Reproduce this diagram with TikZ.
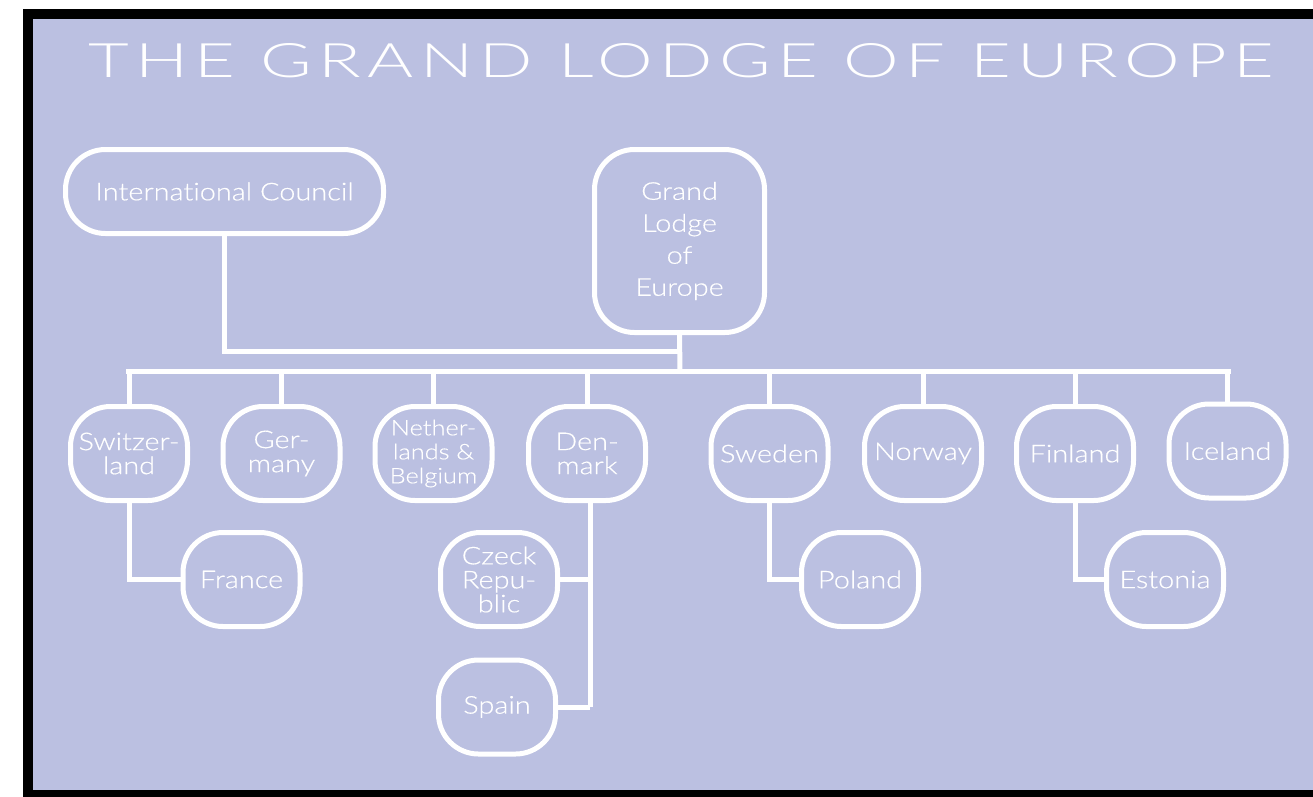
\documentclass[tikz,border=0pt]{standalone}
\usepackage{fontspec}
\setmainfont{Lato Light}[FakeStretch=1.18,FakeBold=0.4,Ligatures=NoCommon]
\newfontfamily\titlefont{Lato Light}
\usepackage{graphicx}
\definecolor{lodgebg}{RGB}{187,192,225}
\begin{document}
\begin{tikzpicture}[x=1pt,y=-1pt,
  conn/.style={draw=white,line width=5pt},
  lbox/.style={draw=white,line width=5pt,rounded corners=40pt,inner sep=0pt,
    text=white,align=center,minimum width=117pt,minimum height=94pt,
    font=\fontsize{24.5}{24}\selectfont},
  bigbox/.style={lbox,rounded corners=40pt}]
\useasboundingbox (0,0) rectangle (1313,796);
\fill[white] (0,0) rectangle (1313,796);
\fill[black] (23,9) rectangle (1340,820);
\fill[lodgebg] (33,19) rectangle (1330,790);
\node[anchor=south west,inner sep=0pt,text=white] (title) at (88,78)
  {\resizebox{1185pt}{34pt}{\titlefont\addfontfeature{LetterSpace=9}THE GRAND LODGE OF EUROPE}};
% top boxes
\node[bigbox,minimum width=318pt,minimum height=84pt] (ic) at (224.5,191.5) {International Council};
\node[bigbox,minimum width=170pt,minimum height=183pt,font=\fontsize{24.5}{32}\selectfont] (gle) at (679.5,241) {Grand\\Lodge\\of\\Europe};
% row 1
\node[lbox] (sw) at (129,453.5) {Switzer-\\land};
\node[lbox] (de) at (281.5,453.5) {Ger-\\many};
\node[lbox,font=\fontsize{21.5}{24}\selectfont] (nl) at (433.5,453.5) {Nether-\\lands \&\\Belgium};
\node[lbox] (dk) at (587,453.5) {Den-\\mark};
\node[lbox] (se) at (769.5,453.5) {Sweden};
\node[lbox] (no) at (923,453.5) {Norway};
\node[lbox] (fi) at (1075,453.5) {Finland};
\node[lbox] (is) at (1227.5,451) {Iceland};
% row 2
\node[lbox] (fr) at (241.5,579.5) {France};
\node[lbox] (cz) at (499,579.5) {Czeck\\Repu-\\blic};
\node[lbox] (pl) at (860,579.5) {Poland};
\node[lbox] (ee) at (1165,579.5) {Estonia};
\node[lbox] (es) at (497,707) {Spain};
% connectors
\coordinate (icj) at (680,351);
\coordinate (busL) at (128,371);
\coordinate (busR) at (1228,371);
\coordinate (busC) at (680,371);
\coordinate (dkb) at (590,707);
\draw[conn] (ic.south) |- (icj);
\draw[conn] (gle.south) -- (busC);
\draw[conn,line cap=rect] (busL) -- (busR);
\foreach \n in {sw,de,nl,dk,se,no,fi,is}{
  \draw[conn] (\n.north) -- (\n.north |- busC);
}
\draw[conn] (sw.south) |- (fr.west);
\draw[conn] (se.south) |- (pl.west);
\draw[conn] (fi.south) |- (ee.west);
\draw[conn] ([xshift=3pt]dk.south) -- (dkb);
\draw[conn] (cz.east) -- (cz.east -| dkb);
\draw[conn] (es.east) -- (dkb);
\end{tikzpicture}
\end{document}
